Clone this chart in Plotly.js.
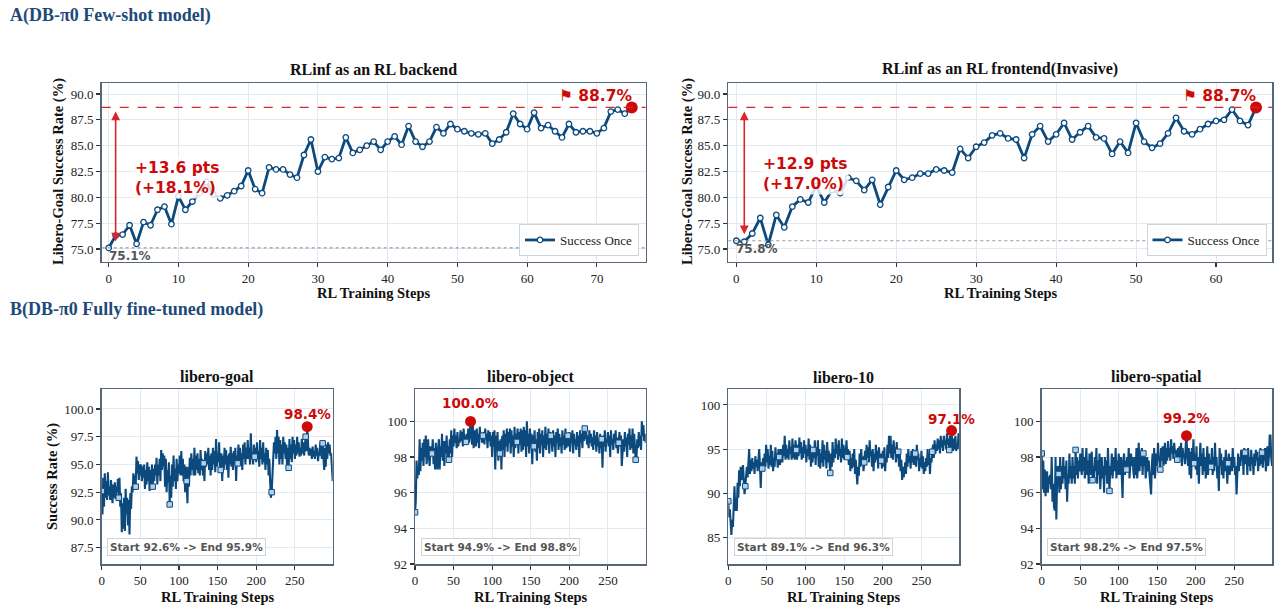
<!DOCTYPE html>
<html><head><meta charset="utf-8">
<script src="https://cdn.plot.ly/plotly-3.0.1.min.js"></script>
<style>html,body{margin:0;padding:0;background:#fff}#chart{width:1280px;height:610px}</style>
</head><body><div id="chart"></div>
<script>
// ---------------- data ----------------
const sectionTitles = ['A(DB-π0 Few-shot model)', 'B(DB-π0 Fully fine-tuned model)'];
const topTitles = ['RLinf as an RL backend', 'RLinf as an RL frontend(Invasive)'];
const bottomTitles = ['libero-goal', 'libero-object', 'libero-10', 'libero-spatial'];
const legendName = 'Success Once';
const xTitle = 'RL Training Steps';
const yTitleTop = 'Libero-Goal Success Rate (%)';
const yTitleBottom = 'Success Rate (%)';
const startLabels = [92.6, 94.9, 89.1, 98.2];
const endLabels = [95.9, 98.8, 96.3, 97.5];

const backendSuccess = [
75.1,76.3,76.4,77.3,75.5,77.6,77.3,78.8,79.1,77.4,
80.1,78.8,79.6,80.4,81.5,80.3,79.9,80.2,80.6,81.1,
82.6,80.8,80.4,82.9,82.7,82.7,82.2,81.9,84.1,85.6,
82.5,83.9,83.7,83.8,85.8,84.3,84.6,85.0,85.4,84.6,
85.4,85.9,85.1,86.9,85.4,84.9,85.4,86.8,86.2,87.1,
86.6,86.4,86.2,86.1,86.2,85.2,85.6,86.3,88.1,87.1,
86.6,88.2,86.7,87.0,86.4,85.8,87.1,86.3,86.4,86.4,
86.2,86.7,88.3,88.5,88.1,88.7];

const frontendSuccess = [
75.8,75.7,76.5,78.0,75.4,78.3,77.1,79.1,79.8,79.5,
81.1,79.5,80.7,80.4,81.9,81.6,80.7,81.7,79.3,81.0,
82.6,81.7,81.9,82.3,82.3,82.7,82.6,82.4,84.7,83.8,
84.9,85.3,86.0,86.2,85.7,85.6,83.8,86.1,86.9,85.4,
86.1,87.2,85.6,86.3,86.9,85.8,85.7,84.2,85.4,84.3,
87.2,85.4,84.8,85.2,86.2,87.7,86.4,86.1,86.6,87.1,
87.4,87.5,88.5,87.4,87.0,88.7];

const liberoGoal = [
92.6,90.5,93.8,91.2,94.2,92.0,93.5,91.8,94.3,92.2,
93.0,91.8,93.6,92.4,91.5,93.2,92.0,93.4,91.9,93.0,
92.5,93.7,92.0,93.8,91.2,92.4,88.9,91.5,89.2,92.0,
89.0,92.8,90.5,92.0,89.5,91.8,88.7,92.4,91.0,93.0,
92.5,94.2,93.0,94.0,93.0,95.7,94.2,95.3,93.6,95.0,
94.0,95.0,93.5,94.8,93.8,95.0,92.8,94.5,93.2,95.2,
93.5,94.8,92.6,94.5,93.0,95.0,93.0,94.6,93.5,95.0,
94.0,95.6,93.2,95.0,94.0,95.5,93.5,96.3,94.5,96.0,
94.8,95.8,93.0,95.5,92.5,94.5,93.4,95.2,91.4,94.0,
92.0,95.0,93.0,95.8,93.5,94.6,92.8,95.5,93.5,95.0,
94.2,95.8,94.0,96.2,94.0,95.5,93.5,95.0,92.5,94.8,
93.5,91.5,94.8,93.0,95.6,94.0,96.0,94.5,95.5,94.0,
96.5,94.0,95.8,94.5,96.0,94.2,95.5,94.0,96.3,94.5,
95.5,94.0,95.1,93.5,96.2,94.8,96.0,95.0,96.5,94.5,
95.8,94.0,96.0,94.5,96.5,95.0,96.2,94.3,97.3,94.8,
96.0,95.2,97.0,94.5,94.5,96.0,93.5,95.8,94.5,96.5,
95.0,96.3,94.5,95.8,93.8,96.0,95.0,96.6,94.8,96.0,
94.5,96.2,95.0,96.5,93.5,95.8,95.1,96.8,95.2,96.5,
95.0,96.0,94.5,96.8,95.5,97.0,95.0,96.5,95.5,97.2,
95.5,96.5,95.0,97.8,95.5,96.0,95.0,96.8,95.7,96.5,
95.2,97.0,95.5,96.2,94.8,97.2,95.5,96.5,95.0,97.0,
95.2,96.0,94.5,96.5,95.0,96.3,94.0,95.5,93.5,92.0,
92.5,94.5,95.5,97.0,96.0,97.5,95.5,98.1,96.0,97.5,
95.0,97.2,95.5,96.8,95.0,97.5,96.0,97.0,95.5,96.8,
94.5,96.5,94.7,97.3,95.5,96.8,95.2,97.5,96.0,97.2,
95.5,96.8,95.8,97.5,96.0,97.0,95.7,96.5,95.8,97.3,
96.0,97.0,95.8,96.5,97.5,96.2,98.4,97.0,95.8,96.5,
95.8,96.4,95.5,96.6,95.7,96.2,95.5,96.8,95.8,96.5,
95.3,96.0,95.8,97.0,96.2,95.5,96.9,96.0,94.5,96.5,
94.8,96.8,95.5,97.0,96.0,96.8,95.8,96.0,94.5,93.5];

const liberoObject = [
94.9,95.5,97.8,96.8,97.5,97.0,99.0,97.2,98.5,97.8,
98.8,97.5,99.0,98.0,99.2,97.6,98.2,99.0,98.0,97.5,
98.6,98.2,98.2,99.0,97.6,98.5,97.3,98.8,97.8,97.3,
98.5,99.0,97.3,98.6,98.0,99.3,97.8,98.9,97.5,98.9,
98.2,99.2,97.8,98.6,97.85,99.0,98.2,99.5,98.0,99.2,
98.6,99.6,98.8,99.2,98.5,99.4,98.6,99.0,98.8,99.5,
98.9,99.4,98.6,99.6,98.9,99.2,98.85,99.3,99.0,99.6,
98.8,99.4,100.0,99.2,98.7,99.8,98.5,99.5,99.0,98.6,
99.6,98.8,99.3,98.5,99.7,99.0,99.3,98.8,99.2,99.4,
98.7,99.6,99.0,99.3,98.5,99.5,98.9,99.4,98.6,99.2,
98.0,99.4,98.6,99.5,97.3,99.2,98.3,99.4,97.8,98.9,
98.2,99.0,97.3,99.2,98.4,99.5,98.0,99.3,98.6,99.6,
98.3,99.4,98.8,99.6,98.2,99.5,98.6,99.2,98.0,99.7,
98.5,99.3,98.85,99.6,98.2,99.4,98.7,99.6,98.3,99.5,
98.4,99.7,98.6,99.5,98.0,100.0,98.6,99.3,98.2,99.6,
98.6,99.3,97.6,99.2,98.6,99.5,98.3,99.0,97.8,99.4,
98.5,99.6,98.2,99.3,98.7,99.5,98.0,99.2,98.5,99.7,
98.4,99.3,98.7,99.6,98.2,99.4,99.2,99.0,98.3,99.5,
98.6,99.2,98.0,99.4,98.8,99.6,98.4,99.3,98.6,99.1,
98.2,99.5,98.7,99.2,98.4,99.6,98.5,99.0,99.2,98.6,
99.4,98.3,99.2,98.8,99.5,98.2,99.3,98.7,99.0,98.4,
99.4,98.6,99.2,98.0,99.5,98.8,99.3,98.5,99.6,98.9,
99.6,99.0,99.4,98.7,99.2,98.5,99.5,98.8,99.3,98.6,
99.1,98.4,99.5,98.7,99.2,98.3,99.4,98.6,99.0,98.2,
99.3,98.5,99.0,97.4,99.2,98.6,99.5,98.3,99.0,98.8,
99.4,98.6,99.2,98.0,99.5,98.7,99.0,98.4,99.3,98.8,
99.5,98.5,99.1,98.2,98.8,99.4,98.6,99.2,97.5,98.8,
99.0,98.3,99.4,98.6,99.1,98.0,99.3,98.7,99.6,98.4,
99.2,98.5,99.6,98.2,99.3,98.6,97.85,97.9,99.0,98.5,
99.4,98.6,99.2,98.4,100.0,99.2,99.8,98.9,99.3,98.8];

const libero10 = [
89.1,87.3,88.2,86.5,85.3,87.0,86.2,88.5,90.8,88.0,
89.5,88.0,91.2,89.5,92.6,90.8,93.0,91.5,92.0,93.2,
90.5,89.9,90.8,92.5,93.0,91.8,93.5,95.0,92.2,93.8,
92.5,94.0,92.8,93.5,92.2,94.2,93.0,93.8,92.5,94.5,
95.0,93.0,90.6,93.5,92.8,94.0,92.6,94.5,93.0,95.5,
93.5,95.0,92.8,94.2,93.2,95.5,93.0,94.8,92.5,94.0,
93.0,95.2,93.8,94.5,92.9,95.0,94.1,93.2,95.0,94.0,
93.5,95.5,94.2,96.5,93.8,95.5,94.0,95.0,93.8,96.0,
94.5,95.2,93.8,96.2,94.0,95.5,93.8,96.0,94.9,93.8,
95.5,94.2,96.3,94.5,95.8,93.8,95.2,94.0,96.0,94.5,
95.5,93.5,95.0,94.2,96.2,93.8,95.5,93.0,94.8,93.5,
94.9,94.0,96.0,93.2,95.2,94.2,96.0,93.0,95.0,92.8,
94.5,93.5,96.0,93.0,95.5,93.8,94.8,92.8,95.8,93.5,
94.8,93.2,92.3,94.5,93.0,95.8,93.5,95.0,94.0,96.2,
94.5,95.5,93.8,96.0,94.2,95.0,93.5,96.2,94.0,95.5,
93.8,95.2,94.5,96.0,94.1,95.0,93.2,94.8,92.5,94.0,
92.8,94.5,93.0,95.0,92.2,93.8,91.5,91.0,93.0,92.0,
94.5,93.0,95.0,93.5,94.2,92.5,93.5,94.8,93.2,95.5,
94.0,95.2,93.5,96.0,94.2,94.8,93.0,95.0,92.5,94.5,
93.5,95.5,93.8,94.8,92.8,95.2,93.5,94.5,93.7,92.8,
94.8,93.0,95.2,92.5,94.0,93.5,95.5,94.0,96.5,94.5,
96.5,94.0,95.5,93.8,96.0,94.5,95.2,93.5,95.8,94.0,
94.7,93.0,94.5,92.5,93.8,91.5,93.0,91.8,92.5,93.5,
92.2,94.5,93.0,95.0,93.5,94.2,92.8,94.8,93.5,95.0,
93.2,94.8,94.5,93.0,95.5,93.8,94.5,92.5,94.0,93.0,
94.8,92.8,94.2,92.2,93.5,92.5,94.0,93.0,95.0,93.2,
94.5,92.2,94.0,93.5,94.7,95.5,94.0,96.0,94.5,95.5,
94.8,96.2,95.0,96.0,94.5,96.5,95.2,96.0,94.8,96.5,
95.5,96.0,95.0,96.8,95.5,96.2,94.9,96.5,95.2,97.1,
95.5,94.8,96.2,95.0,96.5,94.8,95.5,95.0,96.8,96.3];

const liberoSpatial = [
98.2,96.2,97.8,96.0,97.3,95.8,96.8,97.2,96.0,96.9,
96.5,97.0,96.2,98.0,95.5,96.5,95.2,95.0,98.0,94.5,
96.8,97.5,97.05,96.0,98.0,96.2,97.5,96.5,98.0,96.8,
97.5,96.2,97.8,95.5,97.0,96.5,98.2,96.8,97.5,96.5,
98.0,96.8,97.5,96.5,98.4,97.0,98.0,96.8,97.8,97.2,
98.2,97.5,97.0,98.5,97.2,98.0,96.8,97.6,98.5,97.0,
97.8,96.5,98.2,97.0,97.5,98.3,96.7,97.5,96.8,98.0,
97.2,98.5,96.5,97.8,97.0,98.2,96.2,97.5,98.0,96.8,
97.5,96.0,98.0,97.0,97.8,96.5,98.5,97.2,96.1,97.5,
97.0,98.2,96.8,97.5,98.0,97.2,98.5,96.8,97.8,97.0,
98.2,97.5,97.0,98.0,96.8,95.7,97.8,98.2,97.0,97.8,
97.3,98.0,97.5,98.5,96.8,97.8,98.2,97.5,98.0,97.2,
96.8,98.0,97.0,98.5,96.8,97.5,98.8,97.2,98.0,97.5,
98.5,97.0,98.2,97.5,98.0,96.8,97.5,98.0,97.2,97.8,
97.0,96.5,95.9,97.5,98.2,97.0,98.5,96.8,97.8,98.2,
97.5,98.8,97.8,98.0,97.3,98.5,97.8,98.6,97.5,98.2,
98.8,97.6,98.5,97.8,98.9,98.0,98.5,97.8,99.0,98.2,
98.6,97.9,98.8,98.2,98.4,97.9,97.85,98.5,97.8,98.6,
98.0,98.8,97.5,98.5,98.0,98.2,97.6,98.7,99.2,98.0,
97.5,98.5,97.0,98.3,96.8,98.5,97.8,99.0,97.65,98.2,
97.3,98.6,97.0,98.0,96.5,97.8,98.8,97.5,98.2,97.0,
98.5,97.2,98.0,96.8,97.5,98.6,97.0,98.2,97.5,97.8,
97.45,98.5,97.0,98.0,97.2,98.8,97.5,98.0,96.8,97.5,
96.1,98.5,97.5,98.2,97.0,97.8,96.8,98.0,97.2,98.4,
97.5,96.5,97.65,98.2,97.0,97.6,98.0,97.2,98.5,97.4,
98.0,97.0,97.5,95.9,97.8,98.2,97.2,98.0,97.5,98.4,
97.8,98.2,97.0,98.5,98.25,97.6,98.2,97.0,98.5,97.5,
98.0,97.2,98.4,97.6,98.0,97.0,98.2,97.5,98.4,97.8,
98.3,97.2,98.0,97.5,98.5,97.6,98.25,97.4,98.2,97.8,
98.5,97.2,97.8,98.6,97.5,98.0,99.2,99.2,98.0,97.5];

// ---------------- style ----------------
const BLUE = '#0c4a7e', RED = '#cc0a0a', REDLINE = '#d9262b', FRAME = '#55677b', GRID = '#e4e9f0';
const SECTION = '#1d4a78';
const serif = 'Liberation Serif, Times New Roman, serif';
const sans = 'DejaVu Sans, sans-serif';
const W = 1280, H = 610;
const px = v => v / W, py = v => 1 - v / H;

const topDomX = [[px(101.7), px(645.7)], [px(728.3), px(1272)]];
const topDomY = [py(261.7), py(83.3)];
const botDomX = [[px(101.7), px(332.7)], [px(415), px(645.7)], [px(728.3), px(959.3)], [px(1041.7), px(1272)]];
const botDomY = [py(564), py(389.3)];
const topYRange = [73.77, 91.04];
const botYRanges = [[86.03, 101.77], [92, 101.8], [82.0, 101.77], [92, 101.8]];
const botYTicks = [
  {tick0: 87.5, dtick: 2.5, tickformat: '.1f'},
  {tick0: 92, dtick: 2, tickformat: 'd'},
  {tick0: 85, dtick: 5, tickformat: 'd'},
  {tick0: 92, dtick: 2, tickformat: 'd'}];
const botLabelShift = [3, 8, 2, 8];
const MARK_EVERY = 22;

function argmax(a) { let k = 0; for (let i = 1; i < a.length; i++) if (a[i] > a[k]) k = i; return k; }
const idx = a => a.map((_, i) => i);

function axis(extra) {
  return Object.assign({
    showline: true, mirror: true, linecolor: FRAME, linewidth: 1.5,
    showgrid: true, gridcolor: GRID, gridwidth: 1, zeroline: false,
    ticks: 'outside', ticklen: 4, tickwidth: 1.1, tickcolor: '#333',
    tickfont: {family: serif, size: 13, color: '#222'}, fixedrange: true
  }, extra);
}

const data = [], annotations = [], shapes = [];
const layout = {
  width: W, height: H, margin: {l: 0, r: 0, t: 0, b: 0},
  paper_bgcolor: '#fff', plot_bgcolor: '#fff', showlegend: true
};

// ---------------- top panels ----------------
const topSeries = [backendSuccess, frontendSuccess];
const legendRight = [639, 1266.5];
topSeries.forEach((vals, k) => {
  const n = k + 1, xa = 'x' + (n === 1 ? '' : n), ya = 'y' + (n === 1 ? '' : n);
  const xs = idx(vals);
  const start = vals[0], mi = argmax(vals), mx = vals[mi];
  layout['xaxis' + (n === 1 ? '' : n)] = axis({domain: topDomX[k], anchor: ya, range: [-1, vals.length + 1], dtick: 10, tick0: 0});
  layout['yaxis' + (n === 1 ? '' : n)] = axis({domain: topDomY, anchor: xa, range: topYRange, dtick: 2.5, tick0: 75, tickformat: '.1f'});
  const lg = k === 0 ? 'legend' : 'legend2';
  data.push({x: xs, y: vals, xaxis: xa, yaxis: ya, type: 'scatter', mode: 'lines+markers', name: legendName,
    legend: lg, line: {color: BLUE, width: 2.8},
    marker: {symbol: 'circle', size: 5.5, color: '#fff', line: {color: BLUE, width: 1.3}}});
  data.push({x: [xs[mi]], y: [mx], xaxis: xa, yaxis: ya, type: 'scatter', mode: 'markers', showlegend: false,
    marker: {size: 12, color: RED}, cliponaxis: false});
  layout[lg] = {x: px(legendRight[k]), xanchor: 'right', y: py(256), yanchor: 'bottom', bgcolor: '#fff',
    bordercolor: '#cfd4da', borderwidth: 1, font: {family: serif, size: 13, color: '#222'}, itemwidth: 30};
  shapes.push({type: 'line', xref: xa + ' domain', x0: 0, x1: 1, yref: ya, y0: mx, y1: mx,
    line: {color: REDLINE, width: 1.3, dash: 'dash'}});
  shapes.push({type: 'line', xref: xa + ' domain', x0: 0, x1: 1, yref: ya, y0: start, y1: start,
    line: {color: '#8f99aa', width: 1.2, dash: 'dot'}});
  // double arrow
  annotations.push({xref: xa, yref: ya, axref: xa, ayref: ya, x: 1, y: mx, ax: 1, ay: start, text: '',
    showarrow: true, arrowside: 'end+start', arrowhead: 2, startarrowhead: 2, arrowsize: 1.1, startarrowsize: 1.1,
    arrowwidth: 1.6, arrowcolor: REDLINE, standoff: 4, startstandoff: 5});
  const diff = mx - start, pct = diff / start * 100;
  annotations.push({xref: xa, yref: ya, x: 1, y: (start + mx) / 2, xanchor: 'left', yanchor: 'middle', xshift: 17,
    text: '+' + diff.toFixed(1) + ' pts<br>(+' + pct.toFixed(1) + '%)', align: 'left', showarrow: false,
    bgcolor: 'rgba(255,255,255,0.82)', borderpad: 1,
    font: {family: sans, size: 15.5, color: RED, weight: 'bold'}});
  annotations.push({xref: xa, yref: ya, x: xs[mi], y: mx, xanchor: 'right', yanchor: 'bottom', xshift: 3, yshift: 0,
    text: '⚑ ' + mx.toFixed(1) + '%', showarrow: false, font: {family: sans, size: 15.5, color: RED, weight: 'bold'}});
  annotations.push({xref: xa, yref: ya, x: 0, y: start, xanchor: 'left', yanchor: 'top', yshift: 1, xshift: -2,
    text: start.toFixed(1) + '%', showarrow: false, font: {family: sans, size: 12, color: '#555', weight: 'bold'}});
  const cx = (topDomX[k][0] + topDomX[k][1]) / 2;
  annotations.push({xref: 'paper', yref: 'paper', x: cx, y: py(69), xanchor: 'center', yanchor: 'middle', showarrow: false,
    text: topTitles[k], font: {family: serif, size: 16, color: '#111', weight: 'bold'}});
  annotations.push({xref: 'paper', yref: 'paper', x: cx, y: py(293), xanchor: 'center', yanchor: 'middle', showarrow: false,
    text: xTitle, font: {family: serif, size: 14.5, color: '#111', weight: 'bold'}});
  annotations.push({xref: 'paper', yref: 'paper', x: px(k === 0 ? 58 : 687), y: py(172), xanchor: 'center', yanchor: 'middle',
    textangle: -90, showarrow: false, text: yTitleTop, font: {family: serif, size: 14.5, color: '#111', weight: 'bold'}});
});

// ---------------- bottom panels ----------------
const botSeries = [liberoGoal, liberoObject, libero10, liberoSpatial];
botSeries.forEach((vals, k) => {
  const n = k + 3, xa = 'x' + n, ya = 'y' + n;
  const xs = idx(vals);
  const mi = argmax(vals), mx = vals[mi];
  layout['xaxis' + n] = axis({domain: botDomX[k], anchor: ya, range: [0, vals.length - 1], dtick: 50, tick0: 0});
  layout['yaxis' + n] = axis(Object.assign({domain: botDomY, anchor: xa, range: botYRanges[k]}, botYTicks[k]));
  data.push({x: xs, y: vals, xaxis: xa, yaxis: ya, type: 'scatter', mode: 'lines', showlegend: false,
    line: {color: BLUE, width: 2.1}});
  data.push({x: xs.filter(i => i % MARK_EVERY === 0), y: vals.filter((_, i) => i % MARK_EVERY === 0),
    xaxis: xa, yaxis: ya, type: 'scatter', mode: 'markers', showlegend: false,
    marker: {symbol: 'square', size: 5.5, color: '#b3d0ea', line: {color: BLUE, width: 1}}});
  data.push({x: [xs[mi]], y: [mx], xaxis: xa, yaxis: ya, type: 'scatter', mode: 'markers', showlegend: false,
    marker: {size: 11, color: RED}, cliponaxis: false});
  annotations.push({xref: xa, yref: ya, x: xs[mi], y: mx, xanchor: 'center', yanchor: 'bottom', yshift: botLabelShift[k],
    text: mx.toFixed(1) + '%', showarrow: false, font: {family: sans, size: 13.5, color: RED, weight: 'bold'}});
  annotations.push({xref: xa + ' domain', yref: ya + ' domain', x: 0.025, y: 0.045, xanchor: 'left', yanchor: 'bottom',
    text: 'Start ' + startLabels[k].toFixed(1) + '% -> End ' + endLabels[k].toFixed(1) + '%', showarrow: false,
    bgcolor: 'rgba(255,255,255,0.9)', bordercolor: '#cfd4da', borderwidth: 1, borderpad: 2,
    font: {family: sans, size: 10.5, color: '#555', weight: 'bold'}});
  const cx = (botDomX[k][0] + botDomX[k][1]) / 2;
  annotations.push({xref: 'paper', yref: 'paper', x: cx, y: py(377), xanchor: 'center', yanchor: 'middle', showarrow: false,
    text: bottomTitles[k], font: {family: serif, size: 16, color: '#111', weight: 'bold'}});
  annotations.push({xref: 'paper', yref: 'paper', x: cx, y: py(597), xanchor: 'center', yanchor: 'middle', showarrow: false,
    text: xTitle, font: {family: serif, size: 14.5, color: '#111', weight: 'bold'}});
});
annotations.push({xref: 'paper', yref: 'paper', x: px(52), y: py(477), xanchor: 'center', yanchor: 'middle',
  textangle: -90, showarrow: false, text: yTitleBottom, font: {family: serif, size: 14.5, color: '#111', weight: 'bold'}});

// section titles
annotations.push({xref: 'paper', yref: 'paper', x: px(8), y: py(15), xanchor: 'left', yanchor: 'middle', showarrow: false,
  text: sectionTitles[0], font: {family: serif, size: 18, color: SECTION, weight: 'bold'}});
annotations.push({xref: 'paper', yref: 'paper', x: px(8), y: py(309), xanchor: 'left', yanchor: 'middle', showarrow: false,
  text: sectionTitles[1], font: {family: serif, size: 18, color: SECTION, weight: 'bold'}});

layout.annotations = annotations;
layout.shapes = shapes;
Plotly.newPlot('chart', data, layout, {displayModeBar: false, staticPlot: true});
</script></body></html>
